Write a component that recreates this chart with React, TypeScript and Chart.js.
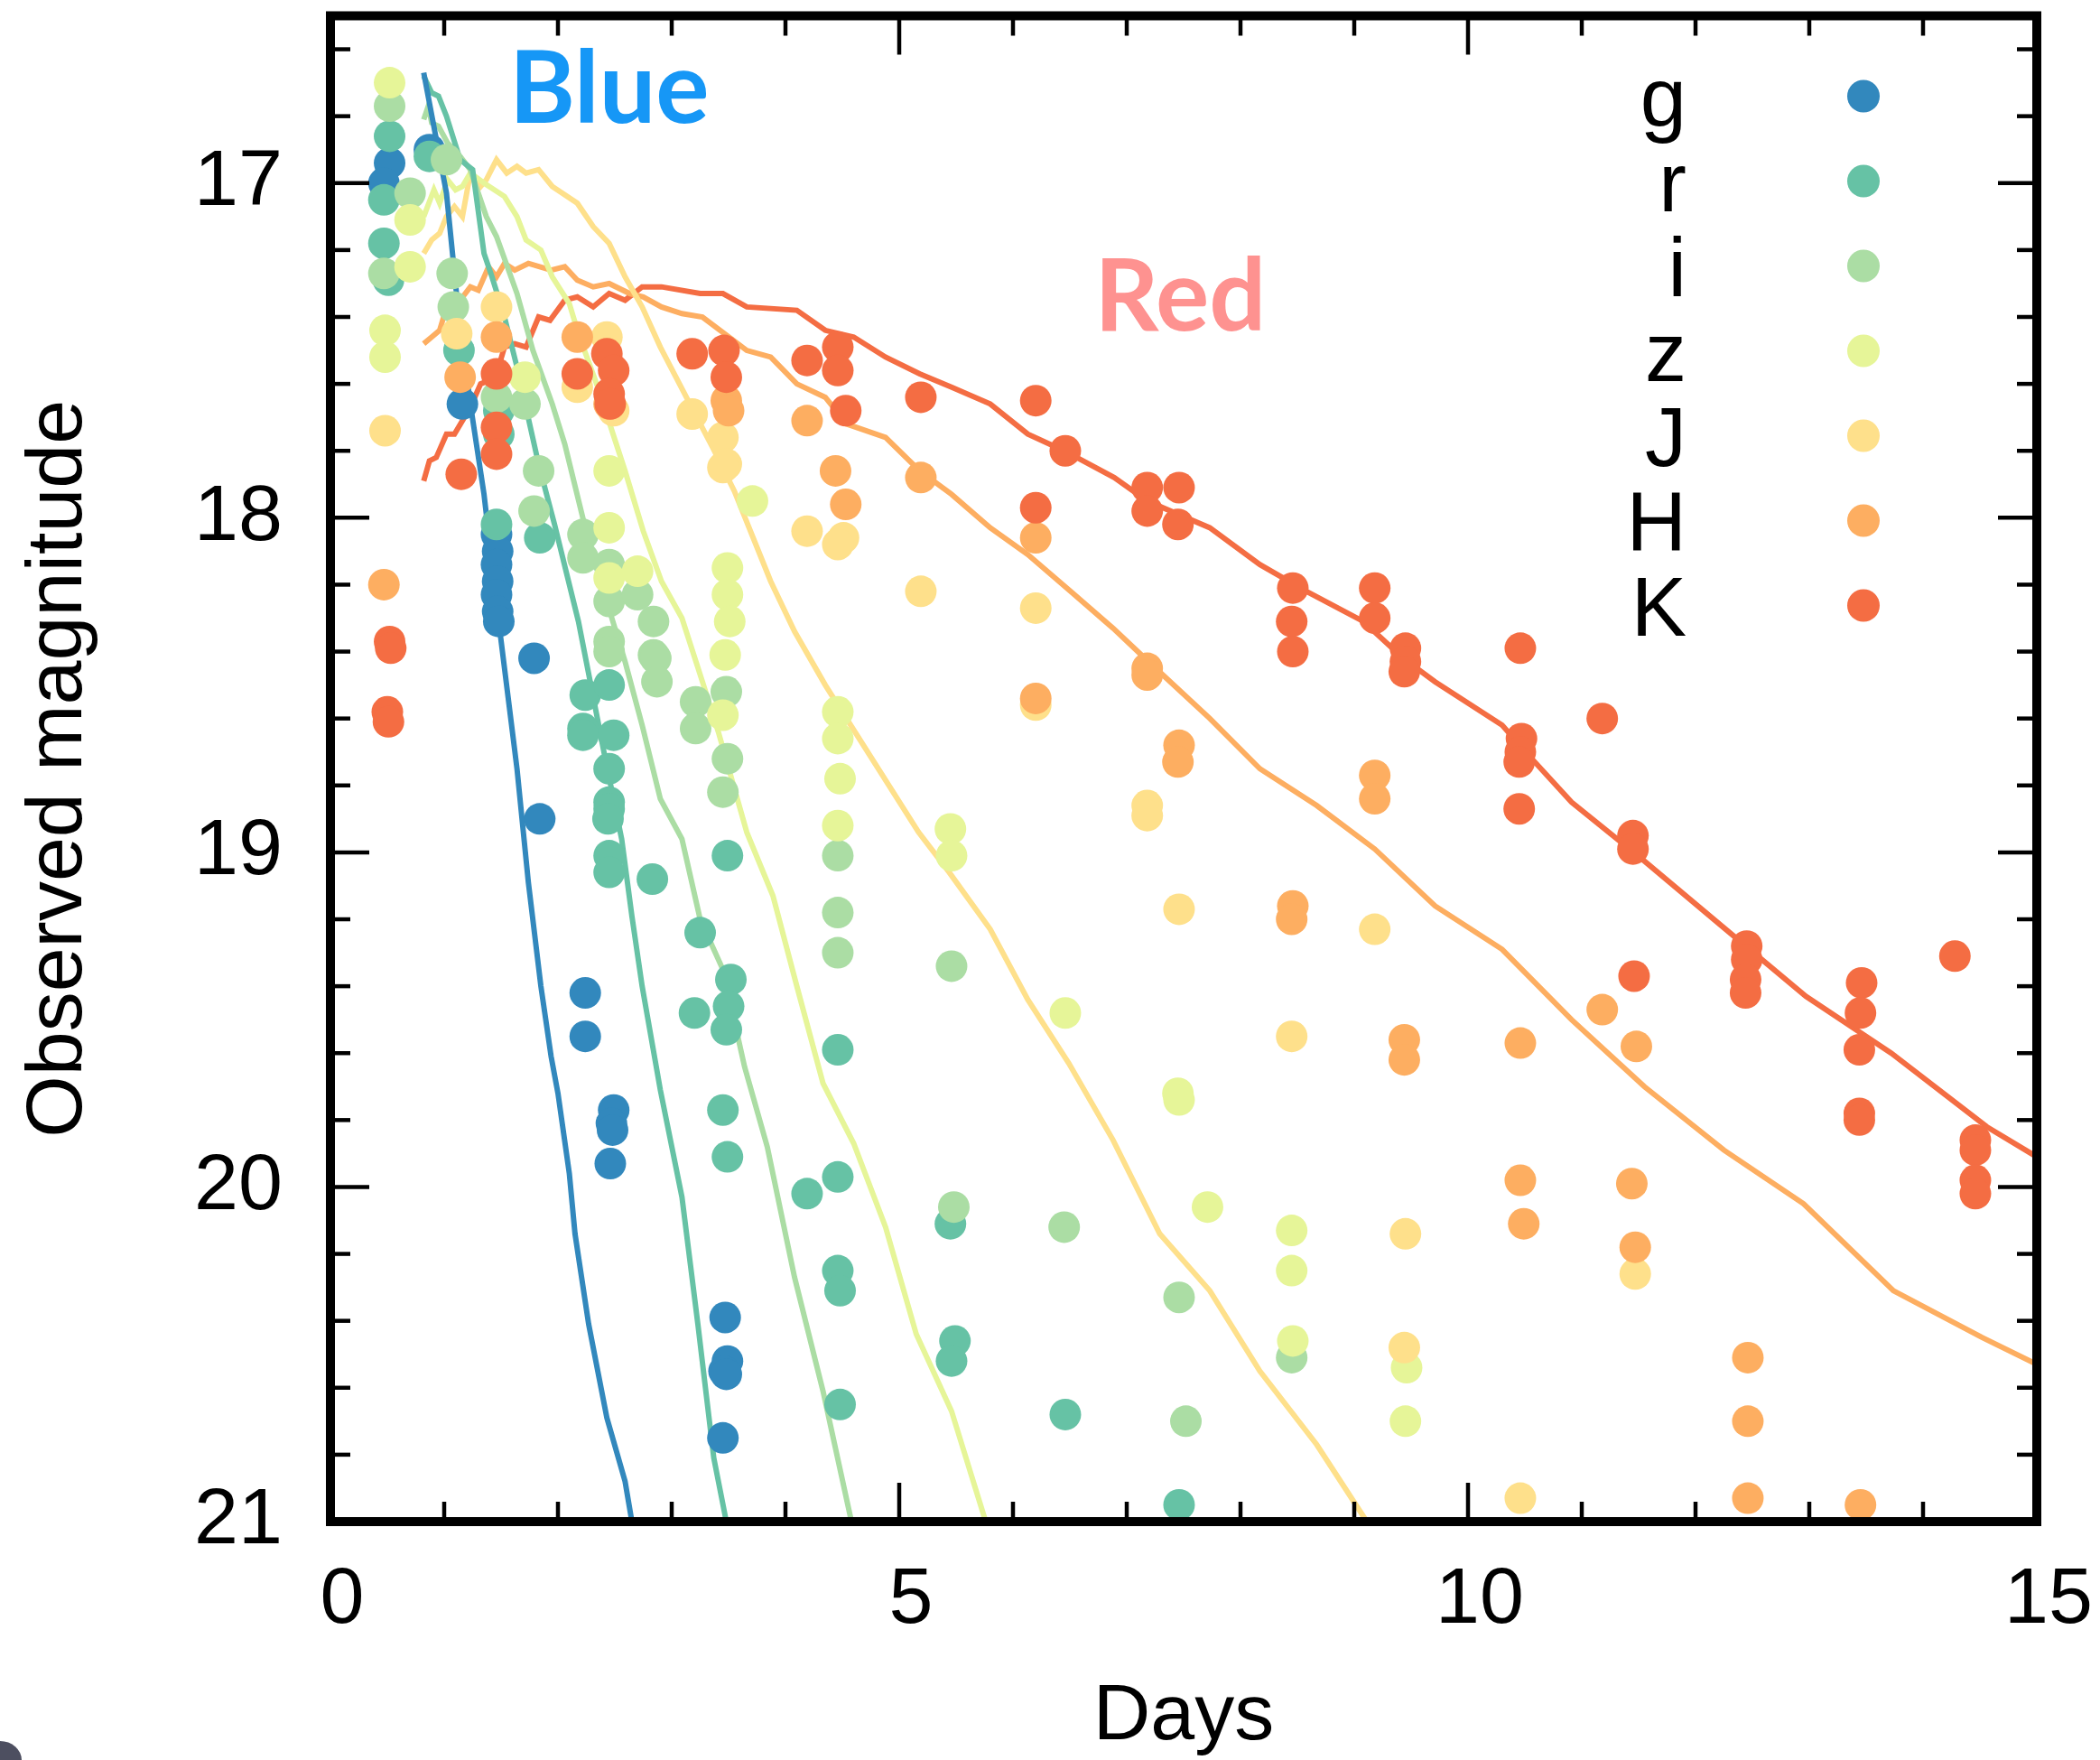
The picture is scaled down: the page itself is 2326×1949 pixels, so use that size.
import React, { useEffect, useRef } from "react";
import { Chart, registerables } from "chart.js";

Chart.register(...registerables);

type Pt = [number, number];

const W = 2326;
const H = 1949;

const bandNames = ["g", "r", "i", "z", "J", "H", "K"];
const bandColors = ["#3288bd", "#66c2a5", "#abdda4", "#e6f598", "#fee08b", "#fdae61", "#f46d43"];

const xTickValues = [0, 5, 10, 15];
const yTickValues = [17, 18, 19, 20, 21];

// Observed photometry per band: [days, magnitude]
const gObs: Pt[] = [
  [0.52, 16.94], [0.47, 17.0], [0.87, 16.9], [1.16, 17.66],
  [1.46, 18.05], [1.47, 18.1], [1.46, 18.14], [1.47, 18.19], [1.46, 18.23], [1.47, 18.28], [1.48, 18.31],
  [1.79, 18.42], [1.84, 18.9],
  [2.24, 19.42], [2.24, 19.55],
  [2.49, 19.77], [2.47, 19.81], [2.48, 19.83], [2.46, 19.93],
  [3.47, 20.39], [3.49, 20.52], [3.46, 20.55], [3.48, 20.56], [3.45, 20.75],
];

const rObs: Pt[] = [
  [0.52, 16.86], [0.47, 17.05], [0.47, 17.18], [0.51, 17.29], [0.87, 16.92], [1.13, 17.5],
  [1.48, 17.68], [1.48, 17.75], [1.46, 18.02], [1.84, 18.06],
  [2.24, 18.53], [2.22, 18.63], [2.22, 18.65],
  [2.45, 18.5], [2.49, 18.65], [2.45, 18.75], [2.45, 18.85], [2.45, 18.87], [2.44, 18.9], [2.45, 19.01], [2.45, 19.06],
  [2.83, 19.08],
  [3.25, 19.24], [3.2, 19.48], [3.49, 19.01], [3.52, 19.38], [3.5, 19.46], [3.48, 19.53], [3.45, 19.77], [3.49, 19.91],
  [4.19, 20.02], [4.46, 19.59], [4.46, 19.97], [4.46, 20.25], [4.48, 20.31], [4.48, 20.65],
  [5.45, 20.11], [5.49, 20.46], [5.46, 20.52],
  [6.46, 20.68], [7.46, 20.95],
];

const iObs: Pt[] = [
  [0.52, 16.77], [0.7, 17.03], [0.47, 17.27], [1.02, 16.93],
  [1.07, 17.27], [1.08, 17.37],
  [1.46, 17.64], [1.71, 17.66], [1.83, 17.86], [1.79, 17.98],
  [2.22, 18.05], [2.22, 18.12], [2.45, 18.14], [2.45, 18.25], [2.7, 18.23], [2.45, 18.37], [2.45, 18.4],
  [2.84, 18.31], [2.84, 18.41], [2.86, 18.42], [2.87, 18.49],
  [3.21, 18.55], [3.21, 18.63], [3.48, 18.52], [3.49, 18.72], [3.45, 18.82],
  [4.46, 19.01], [4.46, 19.18], [4.46, 19.3],
  [5.46, 19.34], [5.48, 20.06], [6.45, 20.12], [7.46, 20.33], [7.52, 20.7], [8.45, 20.51],
];

const zObs: Pt[] = [
  [0.52, 16.7], [0.7, 17.11], [0.7, 17.25], [0.48, 17.44], [0.48, 17.52],
  [1.71, 17.58], [2.45, 17.86], [2.45, 18.03], [2.45, 18.18], [2.7, 18.16],
  [3.49, 18.15], [3.49, 18.23], [3.51, 18.31], [3.47, 18.41], [3.45, 18.59], [3.71, 17.95],
  [4.46, 18.58], [4.46, 18.66], [4.48, 18.78], [4.46, 18.92],
  [5.45, 18.93], [5.46, 19.01], [6.46, 19.48],
  [7.45, 19.72], [7.46, 19.74], [7.71, 20.06],
  [8.45, 20.13], [8.45, 20.25], [8.46, 20.46],
  [9.46, 20.54], [9.45, 20.7],
];

const jObs: Pt[] = [
  [0.48, 17.74], [1.11, 17.45], [1.46, 17.37],
  [2.17, 17.61], [2.43, 17.46], [2.49, 17.68],
  [3.18, 17.69], [3.45, 17.76], [3.48, 17.84], [3.45, 17.85],
  [4.19, 18.04], [4.51, 18.06], [4.46, 18.08],
  [5.19, 18.22], [6.2, 18.27], [6.2, 18.56],
  [7.18, 18.86], [7.18, 18.89], [7.46, 19.17],
  [8.45, 19.55], [9.18, 19.23], [9.45, 20.14], [9.44, 20.48],
  [10.46, 20.93], [11.47, 20.26],
];

const hObs: Pt[] = [
  [0.47, 18.2], [1.14, 17.58], [1.46, 17.46],
  [2.17, 17.46], [2.45, 17.66],
  [3.48, 17.65], [3.5, 17.68],
  [4.19, 17.71], [4.44, 17.86], [4.53, 17.96],
  [5.19, 17.88], [6.2, 18.06], [6.2, 18.54],
  [7.18, 18.45], [7.18, 18.47], [7.46, 18.68], [7.45, 18.73],
  [8.46, 19.16], [8.45, 19.2], [9.18, 18.77], [9.18, 18.84], [9.44, 19.56], [9.44, 19.62],
  [10.46, 19.57], [10.46, 19.98], [10.49, 20.11],
  [11.18, 19.47], [11.48, 19.58], [11.44, 19.99], [11.47, 20.18],
  [12.46, 20.51], [12.46, 20.7], [12.46, 20.93],
  [13.45, 20.95],
];

const kObs: Pt[] = [
  [0.52, 18.37], [0.53, 18.39], [0.5, 18.58], [0.51, 18.61],
  [1.15, 17.87], [1.46, 17.57], [1.46, 17.73], [1.46, 17.81],
  [2.17, 17.57], [2.43, 17.51], [2.49, 17.56], [2.45, 17.63], [2.46, 17.66],
  [3.18, 17.51], [3.46, 17.5], [3.48, 17.58],
  [4.19, 17.53], [4.46, 17.49], [4.46, 17.56], [4.53, 17.68],
  [5.19, 17.64], [6.2, 17.65], [6.2, 17.97], [6.46, 17.8],
  [7.18, 17.91], [7.18, 17.98], [7.46, 17.91], [7.45, 18.02],
  [8.46, 18.21], [8.45, 18.31], [8.46, 18.4],
  [9.18, 18.21], [9.18, 18.3], [9.45, 18.39], [9.45, 18.43], [9.44, 18.46],
  [10.46, 18.39], [10.47, 18.66], [10.46, 18.7], [10.45, 18.73], [10.45, 18.87],
  [11.18, 18.6], [11.45, 18.95], [11.45, 18.99], [11.46, 19.37],
  [12.45, 19.28], [12.45, 19.32], [12.44, 19.38], [12.44, 19.42],
  [13.46, 19.39], [13.45, 19.48], [13.44, 19.59], [13.44, 19.78], [13.44, 19.8],
  [14.28, 19.31],
  [14.46, 19.86], [14.46, 19.89], [14.46, 19.98], [14.46, 20.02],
];

// Model light curves per band: [days, magnitude]
const gModel: Pt[] = [
  [0.82, 16.67], [1.02, 17.03], [1.12, 17.37], [1.23, 17.66], [1.35, 17.93], [1.49, 18.34],
  [1.64, 18.75], [1.74, 19.09], [1.85, 19.4], [1.94, 19.61], [2.0, 19.72], [2.1, 19.96],
  [2.15, 20.14], [2.27, 20.41], [2.43, 20.69], [2.59, 20.88], [2.65, 21.0],
];

const rModel: Pt[] = [
  [0.82, 16.68], [0.89, 16.73], [0.95, 16.74], [1.02, 16.8], [1.14, 16.93], [1.25, 16.96],
  [1.35, 17.21], [1.42, 17.28], [1.53, 17.4], [1.64, 17.55], [1.83, 17.84], [1.97, 18.02],
  [2.18, 18.31], [2.41, 18.71], [2.56, 18.96], [2.65, 19.19], [2.74, 19.4], [2.9, 19.71],
  [3.09, 20.03], [3.23, 20.41], [3.37, 20.81], [3.48, 21.0],
];

const iModel: Pt[] = [
  [0.82, 16.81], [0.86, 16.77], [0.89, 16.82], [0.95, 16.83], [1.03, 16.88], [1.14, 16.92],
  [1.23, 16.96], [1.3, 17.03], [1.37, 17.1], [1.46, 17.16], [1.64, 17.33], [1.78, 17.5],
  [1.95, 17.66], [2.06, 17.78], [2.24, 18.03], [2.42, 18.24], [2.59, 18.43], [2.74, 18.62],
  [2.9, 18.84], [3.09, 18.96], [3.25, 19.2], [3.45, 19.35], [3.64, 19.64], [3.84, 19.88],
  [4.08, 20.27], [4.33, 20.61], [4.58, 21.0],
];

const zModel: Pt[] = [
  [0.82, 17.1], [0.91, 17.02], [0.96, 17.06], [1.03, 16.99], [1.1, 17.02], [1.16, 17.01],
  [1.23, 16.97], [1.35, 17.0], [1.53, 17.04], [1.64, 17.1], [1.72, 17.17], [1.85, 17.2],
  [1.95, 17.28], [2.1, 17.36], [2.18, 17.45], [2.35, 17.61], [2.59, 17.86], [2.75, 18.04],
  [2.91, 18.19], [3.09, 18.3], [3.27, 18.49], [3.41, 18.64], [3.66, 18.94], [3.89, 19.13],
  [4.1, 19.4], [4.33, 19.69], [4.6, 19.87], [4.88, 20.12], [5.15, 20.44], [5.46, 20.67],
  [5.76, 21.0],
];

const jModel: Pt[] = [
  [0.82, 17.21], [0.89, 17.17], [0.96, 17.15], [1.02, 17.1], [1.09, 17.07], [1.16, 17.1],
  [1.23, 16.97], [1.32, 17.01], [1.37, 16.99], [1.46, 16.93], [1.55, 16.97], [1.64, 16.95],
  [1.72, 16.97], [1.83, 16.96], [1.95, 17.01], [2.17, 17.06], [2.31, 17.13], [2.45, 17.18],
  [2.59, 17.28], [2.74, 17.37], [2.9, 17.49], [3.16, 17.66], [3.36, 17.79], [3.55, 17.92],
  [3.87, 18.19], [4.08, 18.34], [4.35, 18.5], [4.76, 18.72], [5.17, 18.94], [5.44, 19.06],
  [5.8, 19.23], [6.13, 19.44], [6.49, 19.63], [6.88, 19.86], [7.29, 20.14], [7.73, 20.31],
  [8.17, 20.55], [8.67, 20.77], [9.11, 21.0],
];

const hModel: Pt[] = [
  [0.82, 17.48], [0.89, 17.46], [0.96, 17.44], [1.03, 17.36], [1.14, 17.35], [1.23, 17.31],
  [1.3, 17.32], [1.39, 17.25], [1.46, 17.28], [1.53, 17.24], [1.62, 17.26], [1.74, 17.24],
  [1.94, 17.26], [2.06, 17.25], [2.17, 17.29], [2.31, 17.31], [2.45, 17.3], [2.63, 17.33],
  [2.75, 17.34], [2.91, 17.37], [3.09, 17.39], [3.27, 17.4], [3.66, 17.5], [3.87, 17.52],
  [4.1, 17.6], [4.35, 17.64], [4.54, 17.72], [4.88, 17.76], [5.18, 17.86], [5.46, 17.93],
  [5.8, 18.03], [6.13, 18.11], [6.54, 18.23], [6.88, 18.33], [7.16, 18.42], [7.73, 18.6],
  [8.17, 18.75], [8.67, 18.86], [9.18, 18.99], [9.71, 19.16], [10.3, 19.29], [10.91, 19.5],
  [11.55, 19.7], [12.25, 19.89], [12.95, 20.05], [13.74, 20.31], [14.52, 20.45], [15.0, 20.53],
];

const kModel: Pt[] = [
  [0.82, 17.89], [0.87, 17.83], [0.93, 17.82], [1.02, 17.75], [1.09, 17.75], [1.23, 17.67],
  [1.32, 17.6], [1.39, 17.59], [1.46, 17.57], [1.53, 17.49], [1.62, 17.48], [1.72, 17.49],
  [1.83, 17.4], [1.93, 17.41], [2.06, 17.35], [2.17, 17.34], [2.31, 17.37], [2.45, 17.33],
  [2.59, 17.35], [2.74, 17.31], [2.91, 17.31], [3.25, 17.33], [3.45, 17.33], [3.66, 17.37],
  [4.1, 17.38], [4.35, 17.44], [4.6, 17.46], [4.88, 17.52], [5.18, 17.57], [5.46, 17.61],
  [5.8, 17.66], [6.13, 17.75], [6.45, 17.8], [6.89, 17.88], [7.18, 17.95], [7.73, 18.03],
  [8.17, 18.14], [8.58, 18.22], [9.08, 18.31], [9.43, 18.42], [9.71, 18.49], [10.3, 18.62],
  [10.56, 18.72], [10.91, 18.85], [11.53, 19.02], [12.23, 19.22], [12.97, 19.43], [13.72, 19.6],
  [14.56, 19.82], [15.0, 19.91],
];

const bandObs = [gObs, rObs, iObs, zObs, jObs, hObs, kObs];
const bandModels = [gModel, rModel, iModel, zModel, jModel, hModel, kModel];

// Region labels: text, colour, anchor (days, magnitude of baseline)
const regionLabels = [
  { text: "Blue", color: "#1697f6", day: 2.45, mag: 16.82 },
  { text: "Red", color: "#fe9290", day: 7.47, mag: 17.44 },
];

const SANS = "'Liberation Sans', Arial, Helvetica, sans-serif";

const toXY = (pts: Pt[]) => pts.map(([x, y]) => ({ x, y }));

// Inward ticks on all four sides plus the heavy frame
const frameTicksPlugin = {
  id: "frameTicks",
  afterDatasetsDraw(chart: any) {
    const { ctx, chartArea: a, scales } = chart;
    const xs = scales.x;
    const ys = scales.y;
    ctx.save();
    ctx.strokeStyle = "#000";
    ctx.lineCap = "butt";
    ctx.lineWidth = 4.5;
    const seg = (x1: number, y1: number, x2: number, y2: number) => {
      ctx.beginPath();
      ctx.moveTo(x1, y1);
      ctx.lineTo(x2, y2);
      ctx.stroke();
    };
    for (let d = 1; d < 15; d++) {
      const px = xs.getPixelForValue(d);
      const len = d % 5 === 0 ? 43 : 22;
      seg(px, a.bottom, px, a.bottom - len);
      seg(px, a.top, px, a.top + len);
    }
    for (let m = 166; m <= 208; m += 2) {
      const py = ys.getPixelForValue(m / 10);
      const len = m % 10 === 0 ? 43 : 22;
      seg(a.left, py, a.left + len, py);
      seg(a.right, py, a.right - len, py);
    }
    ctx.lineWidth = 10;
    ctx.lineJoin = "miter";
    ctx.strokeRect(a.left, a.top, a.right - a.left, a.bottom - a.top);
    ctx.restore();
  },
};

// Band key in the upper right and the Blue / Red region labels
const keyPlugin = {
  id: "bandKey",
  afterDraw(chart: any) {
    const { ctx, chartArea: a, scales } = chart;
    ctx.save();
    ctx.font = `92px ${SANS}`;
    ctx.textAlign = "right";
    ctx.textBaseline = "alphabetic";
    bandNames.forEach((name, i) => {
      const rowY = a.top + 89 + 94 * i;
      ctx.fillStyle = "#000";
      ctx.fillText(name, a.right - 388, rowY + 33);
      ctx.fillStyle = bandColors[i];
      ctx.beginPath();
      ctx.arc(a.right - 192, rowY, 18, 0, Math.PI * 2);
      ctx.fill();
    });
    ctx.font = `bold 111px Lato, 'Open Sans', sans-serif`;
    ctx.textAlign = "center";
    regionLabels.forEach((lab) => {
      ctx.fillStyle = lab.color;
      ctx.fillText(lab.text, scales.x.getPixelForValue(lab.day), scales.y.getPixelForValue(lab.mag));
    });
    ctx.restore();
  },
};

export default function App() {
  const canvasRef = useRef<HTMLCanvasElement | null>(null);

  useEffect(() => {
    if (!canvasRef.current) return;
    const datasets: any[] = [];
    bandNames.forEach((name, i) => {
      datasets.push({
        type: "line",
        label: `${name} model`,
        data: toXY(bandModels[i]),
        borderColor: bandColors[i],
        backgroundColor: bandColors[i],
        borderWidth: 6,
        pointRadius: 0,
        fill: false,
        tension: 0,
        order: 20,
      });
    });
    bandNames.forEach((name, i) => {
      datasets.push({
        type: "scatter",
        label: name,
        data: toXY(bandObs[i]),
        backgroundColor: bandColors[i],
        borderColor: bandColors[i],
        borderWidth: 0,
        pointRadius: 17.5,
        pointHoverRadius: 17.5,
        order: 7 - i,
      });
    });

    const chart = new Chart(canvasRef.current, {
      type: "scatter",
      data: { datasets },
      options: {
        responsive: false,
        animation: false,
        devicePixelRatio: 1,
        events: [],
        layout: { padding: { top: 17, right: 70, bottom: 0, left: 0 } },
        plugins: { legend: { display: false }, tooltip: { enabled: false } },
        scales: {
          x: {
            type: "linear",
            position: "bottom",
            min: 0,
            max: 15,
            afterBuildTicks: (s: any) => {
              s.ticks = xTickValues.map((v) => ({ value: v }));
            },
            afterFit: (s: any) => {
              s.height = H - 1685;
              s.paddingLeft = 0;
              s.paddingRight = 0;
            },
            grid: { display: false, drawTicks: false },
            border: { display: false },
            ticks: {
              color: "#000",
              font: { family: SANS, size: 88 },
              padding: 35,
              labelOffset: 13,
              maxRotation: 0,
              autoSkip: false,
            },
            title: {
              display: true,
              text: "Days",
              color: "#000",
              font: { family: SANS, size: 88, lineHeight: 1 },
              padding: { top: 0, bottom: 3 },
            },
          },
          y: {
            type: "linear",
            position: "left",
            min: 16.5,
            max: 21,
            reverse: true,
            afterBuildTicks: (s: any) => {
              s.ticks = yTickValues.map((v) => ({ value: v }));
            },
            afterFit: (s: any) => {
              s.width = 366;
              s.paddingTop = 0;
              s.paddingBottom = 0;
            },
            grid: { display: false, drawTicks: false },
            border: { display: false },
            ticks: {
              color: "#000",
              font: { family: SANS, size: 88 },
              padding: 53,
              autoSkip: false,
            },
            title: {
              display: true,
              text: "Observed magnitude",
              color: "#000",
              font: { family: SANS, size: 88, lineHeight: 1 },
              padding: { top: 22, bottom: 0 },
            },
          },
        },
      },
      plugins: [frameTicksPlugin, keyPlugin],
    } as any);

    return () => chart.destroy();
  }, []);

  return (
    <div
      style={{
        position: "absolute",
        left: 0,
        top: 0,
        width: W,
        height: H,
        background: "#fff",
        overflow: "hidden",
      }}
    >
      <canvas ref={canvasRef} width={W} height={H} style={{ display: "block" }} />
      <div
        style={{
          position: "absolute",
          left: 0,
          top: 1928,
          width: 24,
          height: 21,
          background: "#4d4f60",
          borderTopRightRadius: "100% 100%",
        }}
      />
    </div>
  );
}
